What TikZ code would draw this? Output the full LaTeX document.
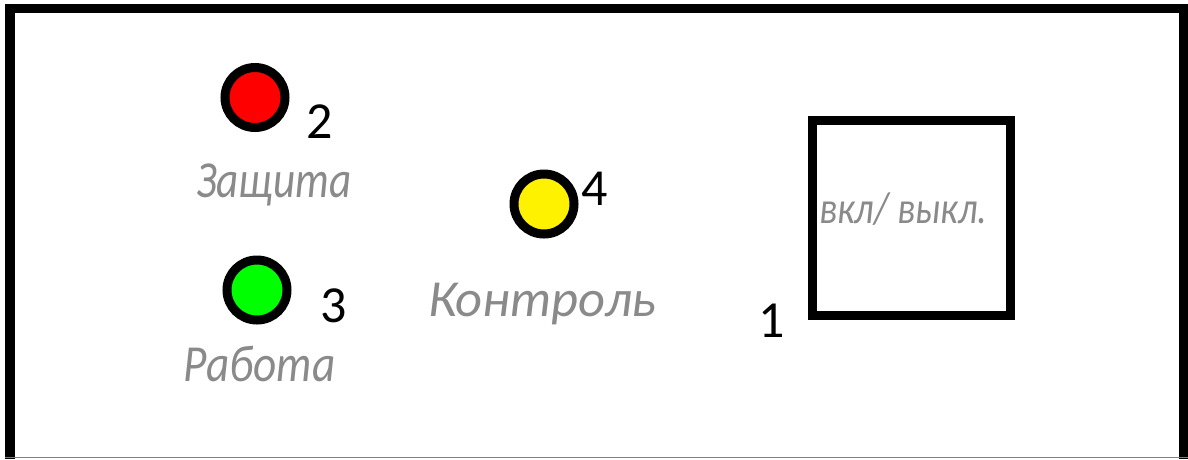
\documentclass[tikz,border=0pt]{standalone}
\usepackage{fontspec}
\setmainfont{Carlito}
\definecolor{lblgray}{HTML}{8A8A8A}
\definecolor{ledred}{HTML}{FF0000}
\definecolor{ledgreen}{HTML}{00FF00}
\definecolor{ledyellow}{HTML}{FFF200}
\tikzset{
  led/.style={circle, draw=black, line width=9pt, minimum size=60pt, inner sep=0pt},
  num/.style={anchor=base west, inner sep=0pt, text=black, font=\fontsize{52}{52}\selectfont},
  lbl/.style={anchor=base west, inner sep=0pt, text=lblgray, font=\fontsize{52}{52}\selectfont\itshape},
  frameline/.style={line width=9.5pt, draw=black}
}
\begin{document}
\begin{tikzpicture}[x=1pt,y=-1pt]
\useasboundingbox (0,0) rectangle (1188,459);
\fill[white] (0,0) rectangle (1188,459);
% outer frame
\draw[frameline, line join=miter] (10,459) -- (10,8.5) -- (1183.5,8.5) -- (1183.5,459);
\draw[draw=gray, line width=1.5pt] (5,457.5) -- (1188,457.5);
% LEDs
\node[led, fill=ledred] (red) at (255,97.5) {};
\node[led, fill=ledgreen] (green) at (257,290) {};
\node[led, fill=ledyellow] (yellow) at (544,204) {};
% numbers
\node[num] (n2) at (306,138) {2};
\node[num] (n3) at (320,322) {3};
\node[num] (n4) at (581,205) {4};
\node[num] (n1) at (758,337) {1};
% labels
\node[lbl, xscale=0.83] (zashchita) at (196,197) {Защита};
\node[lbl, xscale=0.87] (rabota) at (183,381) {Работа};
\node[lbl, xscale=1.01] (kontrol) at (428,316) {Контроль};
% switch
\node[draw=black, line width=9pt, minimum width=197.5pt, minimum height=195pt, inner sep=0pt] (switch) at (911.25,217.5) {};
\node[anchor=base west, inner sep=0pt, text=lblgray, font=\fontsize{45}{45}\selectfont\itshape, xscale=0.84] (onoff) at (819,223) {вкл/ выкл.};
\end{tikzpicture}
\end{document}
